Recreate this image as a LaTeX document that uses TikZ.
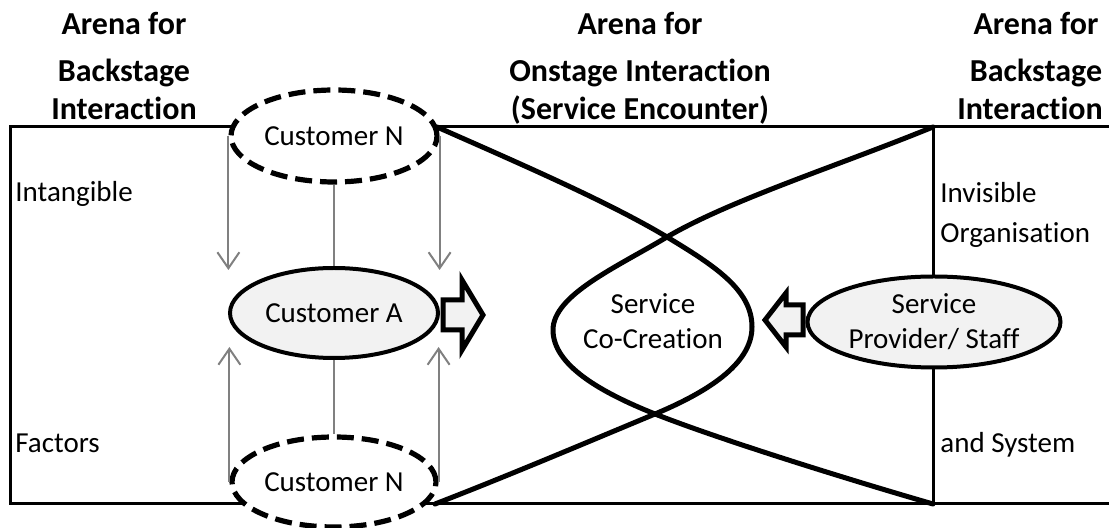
\documentclass[tikz,border=0pt]{standalone}
\usepackage{fontspec}
\setmainfont{Carlito}[Ligatures=NoCommon]
\usetikzlibrary{shapes.geometric,arrows.meta}
\definecolor{lightfill}{RGB}{242,242,242}
\definecolor{linkgray}{RGB}{128,128,128}
\begin{document}
\begin{tikzpicture}[x=0.5pt,y=-0.5pt,
  framerule/.style={line width=1.5pt},
  loopline/.style={line width=2.5pt,line cap=round},
  solidell/.style={ellipse,draw,line width=2pt,fill=lightfill,inner sep=0pt,
    font=\fontsize{14.5}{17.5}\selectfont,align=center},
  dashell/.style={ellipse,draw,line width=2.6pt,dash pattern=on 8.5pt off 4pt,
    fill=white,inner sep=0pt,font=\fontsize{14.5}{17.5}\selectfont},
  link/.style={draw=linkgray,line width=1pt},
  linkarrow/.style={link,-{Straight Barb[length=8pt,width=11pt]}},
  blockarrow/.style={draw,line width=2.5pt,fill=lightfill,line join=miter},
  headtext/.style={font=\bfseries\fontsize{16}{19}\selectfont,anchor=base,inner sep=0pt},
  sidetext/.style={font=\fontsize{14.5}{17.5}\selectfont,anchor=base west,inner sep=0pt},
  bodytext/.style={font=\fontsize{14.5}{17.5}\selectfont,align=center,inner sep=0pt},
]
\useasboundingbox (0,0) rectangle (1109,528);

% frame corners and crossing ends
\coordinate (tl) at (10,127);
\coordinate (tr) at (1109,127);
\coordinate (bl) at (10,504);
\coordinate (br) at (1109,504);
\coordinate (rt) at (933,127);
\coordinate (rb) at (933,504);
\coordinate (ls) at (437,127);
\coordinate (le) at (435,504);
\coordinate (xa) at (667,237);
\coordinate (xb) at (655,414);

% frame
\draw[framerule] (tr) -- (tl) -- (bl) -- (br);
\draw[framerule] (rt) -- (rb);

% crossing curves forming the co-creation loop
\draw[loopline] (ls) .. controls (530,168) and (610,203) .. (xa)
  .. controls (715,266) and (752,290) .. (752,327)
  .. controls (752,365) and (705,393) .. (xb)
  .. controls (590,441) and (510,475) .. (le);
\draw[loopline] (rt) .. controls (840,165) and (730,200) .. (xa)
  .. controls (617,267) and (553,295) .. (553,330)
  .. controls (553,365) and (600,392) .. (xb)
  .. controls (721,440) and (850,480) .. (rb);

% actors
\node[dashell,minimum width=103pt,minimum height=46pt] (ntop) at (334,136) {Customer N};
\node[solidell,minimum width=104pt,minimum height=45pt] (custa) at (334,313) {Customer A};
\node[dashell,minimum width=102pt,minimum height=45pt] (nbot) at (334,482) {Customer N};
\node[solidell,minimum width=126.5pt,minimum height=45.5pt] (staff) at (934,322) {Service\\Provider/ Staff};
\node[bodytext] (cocreation) at (653,321) {Service\\Co-Creation};

% links between customers
\coordinate (tipup) at (0,270);
\coordinate (tipdn) at (0,347);
\draw[linkarrow] (ntop.west) -- (ntop.west |- tipup);
\draw[linkarrow] (ntop.east) -- (ntop.east |- tipup);
\draw[link] (ntop.south) -- (custa.north);
\draw[linkarrow] (nbot.west) -- (nbot.west |- tipdn);
\draw[linkarrow] (nbot.east) -- (nbot.east |- tipdn);
\draw[link] (custa.south) -- (nbot.north);

% block arrows
\draw[blockarrow] (443,300) -- (462,300) -- (462,280) -- (483,315) -- (462,350)
  -- (462,330) -- (443,330) -- cycle;
\draw[blockarrow] (803,305) -- (786,305) -- (786,293) -- (765,320) -- (786,347)
  -- (786,335) -- (803,335) -- cycle;

% column headings
\node[headtext] (h1a) at (124,35) {Arena for};
\node[headtext] (h1b) at (124,82) {Backstage};
\node[headtext] (h1c) at (124,120) {Interaction};
\node[headtext] (h2a) at (640,35) {Arena for};
\node[headtext] (h2b) at (640,82) {Onstage Interaction};
\node[headtext] (h2c) at (640,120) {(Service Encounter)};
\node[headtext] (h3a) at (1036,35) {Arena for};
\node[headtext] (h3b) at (1036,82) {Backstage};
\node[headtext] (h3c) at (1030,120) {Interaction};

% side labels
\node[sidetext] (s1) at (15,202) {Intangible};
\node[sidetext] (s2) at (15,453) {Factors};
\node[sidetext] (s3) at (940,203) {Invisible};
\node[sidetext] (s4) at (940,243) {Organisation};
\node[sidetext] (s5) at (940,453) {and System};
\end{tikzpicture}
\end{document}
